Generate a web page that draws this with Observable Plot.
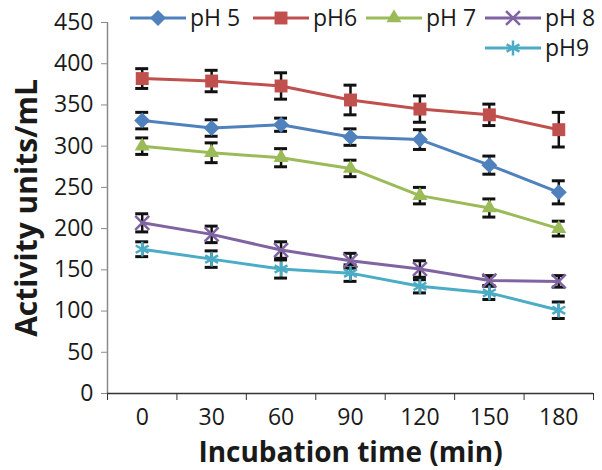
<!DOCTYPE html>
<html><head><meta charset="utf-8">
<script src="https://cdn.jsdelivr.net/npm/d3@7"></script>
<script src="https://cdn.jsdelivr.net/npm/@observablehq/plot@0.6"></script>
<style>
body{margin:0;background:#fff}
#wrap{position:relative;width:602px;height:470px;font-family:"Open Sans",sans-serif}
#legend{position:absolute;left:0;top:0}
</style>
</head><body><div id="wrap"></div>
<script>
const times = [0, 30, 60, 90, 120, 150, 180];
const seriesNames = ["pH 5", "pH6", "pH 7", "pH 8", "pH9"];
const pH5 = [331, 322, 326, 311, 308, 277, 244];
const pH6 = [382, 379, 373, 356, 345, 338, 320];
const pH7 = [300, 292, 286, 273, 240, 225, 200];
const pH8 = [207, 193, 174, 161, 151, 137, 136];
const pH9 = [175, 163, 151, 146, 130, 122, 101];
const err5 = [10, 10, 8, 10, 12, 11, 14];
const err6 = [12, 13, 16, 18, 16, 13, 21];
const err7 = [10, 12, 11, 10, 10, 11, 9];
const err8 = [11, 10, 10, 9, 10, 6, 7];
const err9 = [9, 10, 11, 10, 8, 8, 10];
const yTicks = [0, 50, 100, 150, 200, 250, 300, 350, 400, 450];
const colors = ["#4f81bd", "#c0504d", "#9bbb59", "#8064a2", "#4bacc6"];
const symbols = ["diamond2", "square", "triangle", "times", "asterisk"];
const radii = [7.2, 7.3, 5.6, 6.4, 7];

const values = [pH5, pH6, pH7, pH8, pH9];
const errs = [err5, err6, err7, err8, err9];
const data = [];
seriesNames.forEach((s, i) => times.forEach((t, j) => data.push({series: s, idx: i, t, v: values[i][j], e: errs[i][j]})));

const bounds = times.map(t => t - 15).concat([195]);
const fontTick = 23;

const marks = [
  Plot.ruleX([-15], {y1: 0, y2: 450, stroke: "#8a8a8a", strokeWidth: 1.5}),
  Plot.axisY({ticks: yTicks, tickSize: 6, tickPadding: 8, stroke: "#8a8a8a", fill: "#1a1a1a", fontSize: fontTick, label: null, tickFormat: d => d}),
  Plot.ruleY([0], {x1: -15, x2: 195, stroke: "#333", strokeWidth: 1.5}),
  Plot.axisX({ticks: bounds, tickSize: 7, stroke: "#333", tickFormat: () => "", label: null}),
  Plot.axisX({ticks: times, tickSize: 0, tickPadding: 15, fill: "#1a1a1a", fontSize: fontTick, label: null, tickFormat: d => d}),
  Plot.text(["Incubation time (min)"], {frameAnchor: "bottom", dy: 68, fontSize: 28, fontWeight: "bold", fill: "#1a1a1a"}),
  Plot.text(["Activity units/mL"], {frameAnchor: "left", dx: -80, rotate: -90, textAnchor: "middle", fontSize: 30, fontWeight: "bold", fill: "#1a1a1a"})
];
seriesNames.forEach((s, i) => {
  const d = data.filter(r => r.idx === i);
  marks.push(Plot.line(d, {x: "t", y: "v", stroke: colors[i], strokeWidth: 3}));
});
seriesNames.forEach((s, i) => {
  const d = data.filter(r => r.idx === i);
  marks.push(Plot.ruleX(d, {x: "t", y1: r => r.v - r.e, y2: r => r.v + r.e, stroke: "#111", strokeWidth: 2.5}));
  marks.push(Plot.ruleY(d, {y: r => r.v - r.e, x1: r => r.t - 2.8, x2: r => r.t + 2.8, stroke: "#111", strokeWidth: 3}));
  marks.push(Plot.ruleY(d, {y: r => r.v + r.e, x1: r => r.t - 2.8, x2: r => r.t + 2.8, stroke: "#111", strokeWidth: 3}));
});
seriesNames.forEach((s, i) => {
  const d = data.filter(r => r.idx === i);
  const filled = i < 3;
  marks.push(Plot.dot(d, {x: "t", y: "v", symbol: () => symbols[i], r: radii[i],
    fill: filled ? colors[i] : "none", stroke: filled ? "none" : colors[i], strokeWidth: 2.5}));
});

const chart = Plot.plot({
  width: 602, height: 470,
  marginLeft: 107, marginRight: 9, marginTop: 22, marginBottom: 77,
  style: {fontFamily: "'Open Sans', sans-serif", background: "#fff"},
  x: {type: "linear", domain: [-15, 195], axis: null},
  y: {domain: [0, 450], axis: null},
  symbol: {type: "identity"},
  marks
});
const wrap = document.getElementById("wrap");
wrap.appendChild(chart);

// legend overlay
const lg = d3.select(wrap).append("svg").attr("id", "legend").attr("width", 602).attr("height", 70);
const entries = [
  {x: 130, y: 18}, {x: 253, y: 18}, {x: 366, y: 18}, {x: 485, y: 18}, {x: 485, y: 48}
];
const d3sym = {diamond2: d3.symbolDiamond2, square: d3.symbolSquare, triangle: d3.symbolTriangle, times: d3.symbolTimes, asterisk: d3.symbolAsterisk};
seriesNames.forEach((s, i) => {
  const e = entries[i];
  const g = lg.append("g").attr("transform", `translate(${e.x},${e.y})`);
  g.append("line").attr("x1", 0).attr("x2", 56).attr("stroke", colors[i]).attr("stroke-width", 3);
  const filled = i < 3;
  g.append("path").attr("transform", "translate(28,0)")
    .attr("d", d3.symbol(d3sym[symbols[i]], Math.PI * radii[i] * radii[i])())
    .attr("fill", filled ? colors[i] : "none").attr("stroke", filled ? "none" : colors[i]).attr("stroke-width", 2.5);
  g.append("text").attr("x", 60).attr("y", 0).attr("dy", "0.35em").attr("font-size", 23)
    .attr("fill", "#1a1a1a").attr("font-family", "'Open Sans', sans-serif").text(s);
});
</script>
</body></html>
